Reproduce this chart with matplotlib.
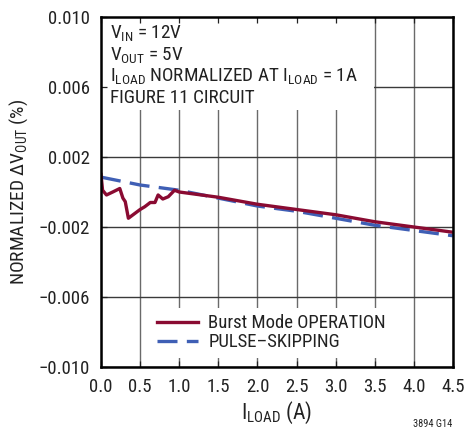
import matplotlib
matplotlib.use("Agg")
import matplotlib.pyplot as plt
from matplotlib import font_manager as fm
from matplotlib.patches import Rectangle

names = {f.name for f in fm.fontManager.ttflist}
FONT = "Liberation Sans"
for cand in ["Liberation Sans Narrow", "Roboto Condensed", "Liberation Sans"]:
    if cand in names:
        FONT = cand
        break
plt.rcParams['font.family'] = [FONT, 'DejaVu Sans']
plt.rcParams['mathtext.fontset'] = 'custom'
plt.rcParams['mathtext.rm'] = FONT
plt.rcParams['mathtext.it'] = FONT
plt.rcParams['mathtext.bf'] = FONT
plt.rcParams['mathtext.default'] = 'regular'

# Data
x_burst = [0.0, 0.02, 0.07, 0.15, 0.24, 0.28, 0.31, 0.35, 0.5, 0.56, 0.63, 0.69, 0.73, 0.79, 0.86, 0.94, 1.0,
           1.5, 2.0, 2.5, 3.0, 3.5, 4.0, 4.5]
y_burst = [0.0010, 0.0001, -0.00017, 0.0, 0.0002, -0.00035, -0.00055, -0.0015, -0.0010, -0.00084, -0.0006, -0.0006,
           -0.00017, -0.0004, -0.00027, 0.0001, 0.0,
           -0.0003, -0.0007, -0.0010, -0.0013, -0.0017, -0.0020, -0.0023]
x_pulse = [0.0, 0.5, 1.0, 1.5, 2.0, 2.5, 3.0, 3.5, 4.0, 4.5]
y_pulse = [0.00085, 0.0004, 0.0001, -0.00035, -0.0008, -0.0011, -0.0015, -0.0019, -0.0022, -0.0025]

x_ticks = [0.0, 0.5, 1.0, 1.5, 2.0, 2.5, 3.0, 3.5, 4.0, 4.5]
y_ticks = [-0.010, -0.006, -0.002, 0.002, 0.006, 0.010]
y_ticklabels = ["\u22120.010", "\u22120.006", "\u22120.002", "0.002", "0.006", "0.010"]

annotation = ["V$_{IN}$ = 12V", "V$_{OUT}$ = 5V", "I$_{LOAD}$ NORMALIZED AT I$_{LOAD}$ = 1A", "FIGURE 11 CIRCUIT"]

fig = plt.figure(figsize=(4.65, 4.37), dpi=100)
ax = fig.add_axes([101/465, 70/437, 352/465, 350/437])

ax.set_xlim(0, 4.5)
ax.set_ylim(-0.010, 0.010)

# grid lines below the white text panel
for xv in x_ticks:
    ax.axvline(xv, color='#6a6a6a', lw=1.0, zorder=0.8)
for yv in y_ticks:
    ax.axhline(yv, color='#3a3a3a', lw=1.0, zorder=0.8)

ax.add_patch(Rectangle((0, 0.734), 0.776, 0.27, transform=ax.transAxes, facecolor='white',
                       edgecolor='none', zorder=1.0))

ax.plot(x_burst, y_burst, color='#8a0b32', lw=2.4, label='Burst Mode OPERATION', zorder=3)
ax.plot(x_pulse, y_pulse, color='#3f5fb5', lw=2.4, dashes=(6, 2.8), label='PULSE\u2013SKIPPING', zorder=2)

ax.set_xticks(x_ticks)
ax.set_xticklabels([f"{v:.1f}" for v in x_ticks])
ax.set_yticks(y_ticks)
ax.set_yticklabels(y_ticklabels)
ax.tick_params(direction='in', length=4, width=0.9, labelsize=13.5, top=True, right=False, colors='#222222')
ax.tick_params(axis='y', pad=8)
ax.tick_params(axis='x', pad=8)
for s in ax.spines.values():
    s.set_linewidth(1.8)
    s.set_zorder(5)

ax.set_xlabel(r'I$_{LOAD}$ (A)', fontsize=15.5, labelpad=3, color='#222222')
ax.set_ylabel(r'NORMALIZED $\Delta$V$_{OUT}$ (%)', fontsize=14, labelpad=6, color='#222222')

for i, line in enumerate(annotation):
    ax.text(0.026, 0.94 - i * 0.062, line, transform=ax.transAxes, va='baseline', ha='left',
            fontsize=13.8, color='#222222', zorder=4)

leg = ax.legend(loc='lower left', bbox_to_anchor=(0.14, 0.026), borderaxespad=0, frameon=True, fontsize=13.5,
                handlelength=2.2, handletextpad=0.55, labelspacing=0.05, borderpad=0.35)
leg.get_frame().set_edgecolor('none')
leg.get_frame().set_facecolor('white')
leg.get_frame().set_alpha(1)
leg.get_frame().set_boxstyle('square', pad=0)
for t in leg.get_texts():
    t.set_color('#222222')

fig.text(452/465, 1 - 424/437, '3894 G14', fontsize=7.5, ha='right', va='center', color='#222222')

fig.savefig('out.png', dpi=100)
